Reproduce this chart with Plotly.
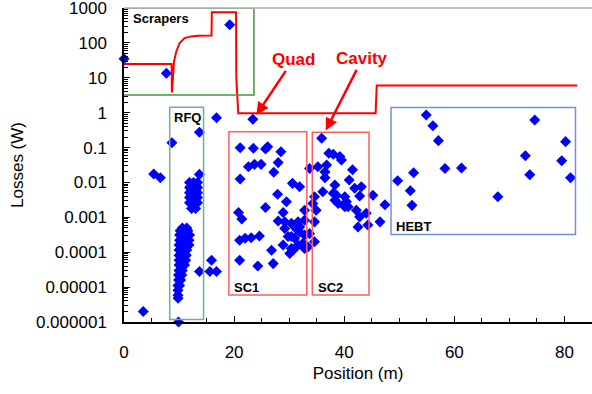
import math
import plotly.graph_objects as go

# ---------------- data ----------------
# loss measurements (position in m, losses in W)
pos_outer = [0, 7.7, 19.2, 16.8, 23.4, 8.7, 13.7, 5.4, 6.6, 13.7, 3.5, 9.9, 13.7, 15.6, 15.9, 16.8]
loss_outer = [35, 13.6, 333, 0.72, 0.65, 0.138, 0.275, 0.0174, 0.0136, 0.017, 2.0e-6, 1.0e-6, 2.8e-5, 2.8e-5, 5.9e-5, 2.8e-5]

pos_rfq = [10.6, 11.4,
           10.2, 10.9, 11.6,
           10.1, 10.8, 11.5, 11.9,
           10.1, 10.8, 11.5, 11.8,
           10.0, 10.7, 11.4, 11.8,
           10.0, 10.7, 11.4,
           10.0, 10.6, 11.3,
           10.0, 10.6, 11.2,
           10.0, 10.6, 11.0,
           10.0, 10.6,
           9.9, 10.5,
           9.9, 10.3,
           9.8, 10.1, 9.8, 9.8, 9.82,
           11.9, 12.64, 13.36,
           11.9, 12.64, 13.36,
           11.9, 12.64, 13.36,
           11.9, 12.64, 13.36,
           11.9, 12.64, 13.36,
           12.27, 13.0]
loss_rfq = [4.9e-4, 4.9e-4,
            4.1e-4, 4.1e-4, 4.1e-4,
            3.1e-4, 3.1e-4, 3.1e-4, 3.1e-4,
            2.2e-4, 2.2e-4, 2.2e-4, 2.2e-4,
            1.6e-4, 1.6e-4, 1.6e-4, 1.6e-4,
            1.15e-4, 1.15e-4, 1.15e-4,
            8.1e-5, 8.1e-5, 8.1e-5,
            5.9e-5, 5.9e-5, 5.9e-5,
            4.3e-5, 4.3e-5, 4.3e-5,
            3.0e-5, 3.0e-5,
            2.2e-5, 2.2e-5,
            1.6e-5, 1.6e-5,
            1.1e-5, 1.1e-5, 8.1e-6, 5.8e-6, 4.8e-6,
            0.0099, 0.0099, 0.0099,
            0.0071, 0.0071, 0.0071,
            0.0051, 0.0051, 0.0051,
            0.0037, 0.0037, 0.0037,
            0.0026, 0.0026, 0.0026,
            0.0018, 0.0018]

pos_sc1 = [21.1, 23.5, 25.7, 26.1, 28.5, 22.6, 23.7, 24.9, 28.0, 27.2, 21.1, 30.6, 31.9, 27.9, 29.5,
           25.7, 20.8, 28.9, 32.8, 21.4, 28.0, 29.2, 30.4, 31.6, 32.8, 29.2, 31.3, 21.0, 22.0, 23.1,
           24.6, 29.8, 31.0, 32.8, 28.9, 30.4, 30.1, 31.6, 32.8, 26.8, 21.0, 24.3, 27.1, 30.7, 31.9,
           32.5, 30.4]
loss_sc1 = [0.099, 0.095, 0.091, 0.106, 0.076, 0.028, 0.033, 0.033, 0.037, 0.0195, 0.0125, 0.0094, 0.0075, 0.0046, 0.0028,
            0.0019, 0.00138, 0.00138, 0.0016, 0.00089, 0.00078, 0.00074, 0.00067, 0.00074, 0.00083, 0.00048, 0.00046, 0.00022, 0.00025, 0.00026,
            0.00029, 0.00028, 0.00025, 0.00031, 0.00016, 0.000128, 0.000092, 0.00016, 0.000128, 0.000114, 5.9e-5, 4.0e-5, 4.7e-5, 0.000114, 0.00053,
            0.00018, 0.00028]

pos_sc2 = [35.9, 37.2, 38.0, 39.2, 39.5, 33.7, 35.2, 36.8, 36.5, 41.5, 40.9, 36.5, 38.3, 41.9, 43.1,
           36.1, 38.0, 38.3, 42.8, 45.2, 34.6, 34.3, 40.1, 40.4, 40.7, 47.4, 34.9, 42.2, 38.9, 44.0,
           34.6, 31.9, 33.7, 34.6, 33.4, 40.1, 42.8, 42.5, 44.3, 46.5, 38.6]
loss_sc2 = [0.185, 0.069, 0.064, 0.055, 0.044, 0.025, 0.028, 0.0316, 0.020, 0.023, 0.0117, 0.0136, 0.0084, 0.0068, 0.0075,
            0.0054, 0.0049, 0.0031, 0.0041, 0.0043, 0.0039, 0.0025, 0.0039, 0.0028, 0.0020, 0.0023, 0.0016, 0.0016, 0.0025, 0.0013,
            0.00074, 0.00038, 0.00034, 0.0002, 0.00014, 0.0020, 0.00103, 0.00053, 0.0006, 0.00074, 0.0043]

pos_hebt = [54.9, 56.1, 57.1, 52.6, 49.7, 52.0, 52.3, 58.3, 61.3, 67.9, 74.6, 72.9, 73.7, 80.2, 79.5, 81.1]
loss_hebt = [0.86, 0.42, 0.158, 0.019, 0.0112, 0.0058, 0.0022, 0.025, 0.026, 0.0039, 0.62, 0.058, 0.0166, 0.148, 0.042, 0.0136]

# red loss-limit curve
limit_pos = [0, 8.65, 8.7, 8.95, 9.1, 9.5, 10.1, 11.0, 12.2, 13.4, 15.9, 15.95, 20.35, 20.4, 20.75, 45.7, 45.9, 82.3]
limit_w = [25, 25, 3.8, 20, 30, 57, 99, 138, 154, 161, 164, 760, 760, 10, 0.97, 0.97, 6.0, 6.0]

# region boxes
region_names = ["Scrapers", "RFQ", "SC1", "SC2", "HEBT"]
region_x0 = [-0.6, 8.3, 19.05, 34.2, 48.5]
region_x1 = [23.6, 14.45, 33.2, 44.5, 82.0]
region_ylo = [3.2, 1.17e-6, 5.9e-6, 5.9e-6, 3.2e-4]
region_yhi = [1000, 1.44, 0.286, 0.275, 1.4]
region_colors = ["#3c9a3c", "#6cb38e", "#ff5c5c", "#ff5c5c", "#6e90e6"]
label_x = [1.3, 11.45, 19.6, 34.8, 49.05]
label_w = [500, 0.74, 1.0e-5, 1.0e-5, 5.6e-4]
label_anchor = ["left", "center", "left", "left", "left"]

y_tickvals = [1e-6, 1e-5, 1e-4, 1e-3, 1e-2, 1e-1, 1, 10, 100, 1000]
y_ticktext = ["0.000001", "0.00001", "0.0001", "0.001", "0.01", "0.1", "1", "10", "100", "1000"]

FONT = "Liberation Sans, Arial, Helvetica, sans-serif"

# minor tick positions (2..9 within each decade)
y_minor = [m * d for d in y_tickvals[:-1] for m in range(2, 10)]

fig = go.Figure()

all_pos = pos_outer + pos_rfq + pos_sc1 + pos_sc2 + pos_hebt
all_loss = loss_outer + loss_rfq + loss_sc1 + loss_sc2 + loss_hebt
fig.add_trace(go.Scatter(x=all_pos, y=all_loss, mode="markers", cliponaxis=False,
                         marker=dict(symbol="diamond", size=8.5, color="#0000ff", line=dict(width=0)),
                         showlegend=False))

fig.add_trace(go.Scatter(x=limit_pos, y=limit_w, mode="lines", cliponaxis=False,
                         line=dict(color="#ff0000", width=2), showlegend=False))

shapes = []
for x0, x1, ylo, yhi, c in zip(region_x0, region_x1, region_ylo, region_yhi, region_colors):
    shapes.append(dict(type="rect", xref="x", yref="y", x0=x0, x1=x1, y0=ylo, y1=yhi,
                       line=dict(color=c, width=1.5), fillcolor="rgba(0,0,0,0)", layer="above"))
shapes.append(dict(type="line", xref="paper", yref="paper", x0=0, x1=1, y0=1, y1=1,
                   line=dict(color="#b0b0b0", width=1.5)))

annotations = []
for name, lx, lw, anc in zip(region_names, label_x, label_w, label_anchor):
    annotations.append(dict(x=lx, y=math.log10(lw), xref="x", yref="y", text=name, showarrow=False,
                            xanchor=anc, yanchor="middle",
                            font=dict(family=FONT, size=13, color="black", weight="bold")))

annotations.append(dict(x=24.04, y=-0.063, xref="x", yref="y", text="Quad", showarrow=True,
                        ax=36.8, ay=-55, arrowcolor="#ff0000", arrowwidth=2.5, arrowhead=2, arrowsize=1,
                        font=dict(family=FONT, size=17, color="#ff0000", weight="bold")))
annotations.append(dict(x=36.64, y=-0.514, xref="x", yref="y", text="Cavity", showarrow=True,
                        ax=36.5, ay=-71.7, arrowcolor="#ff0000", arrowwidth=2.5, arrowhead=2, arrowsize=1,
                        font=dict(family=FONT, size=17, color="#ff0000", weight="bold")))

fig.update_layout(
    width=592, height=394,
    margin=dict(l=124, r=0, t=8, b=72),
    paper_bgcolor="white", plot_bgcolor="white",
    font=dict(family=FONT, size=17, color="black"),
    shapes=shapes, annotations=annotations,
    showlegend=False,
)
fig.update_xaxes(range=[0, 85], dtick=20, tick0=0, ticks="inside", ticklen=6, tickwidth=1.2,
                 tickcolor="black", showline=True, linecolor="black", linewidth=1.5,
                 showgrid=False, zeroline=False, ticklabelstandoff=14, automargin=False,
                 ticklabeloverflow="allow",
                 minor=dict(dtick=5, ticks="inside", ticklen=4, tickcolor="black", showgrid=False),
                 title=dict(text="Position (m)", font=dict(size=17), standoff=6))
fig.update_yaxes(type="log", range=[-6.002, 3.002], tickvals=y_tickvals, ticktext=y_ticktext,
                 ticks="inside", ticklen=6, tickwidth=1.2, tickcolor="black",
                 showline=True, linecolor="black", linewidth=1.5, showgrid=False, zeroline=False,
                 ticklabelstandoff=12, automargin=False, ticklabeloverflow="allow",
                 minor=dict(ticks="inside", ticklen=4, tickcolor="black", tickvals=y_minor,
                            tickwidth=1, showgrid=False),
                 title=dict(text="Losses (W)", font=dict(size=17), standoff=8))

fig.write_html("out.html", config={"displayModeBar": False},
               post_script="document.body.style.margin='0px';")
